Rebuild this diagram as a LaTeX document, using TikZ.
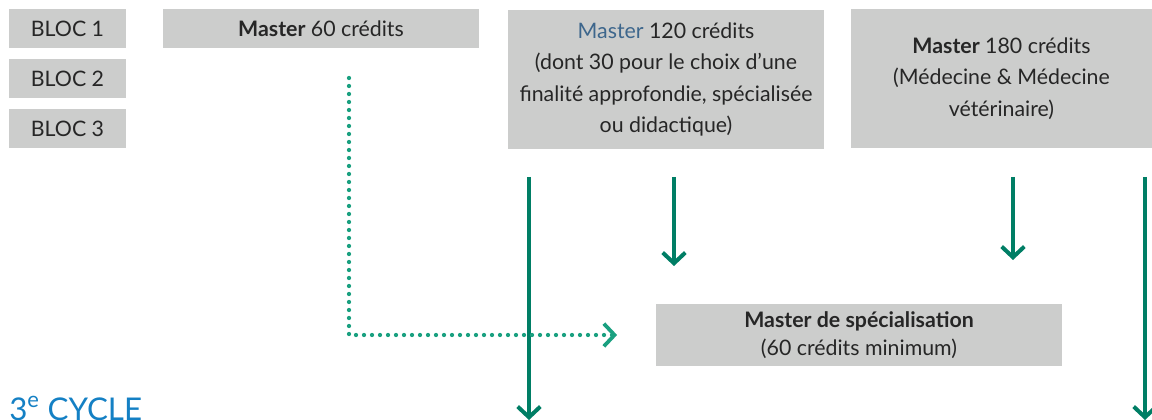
\documentclass[tikz,border=0pt]{standalone}
\usepackage{fontspec}
\setmainfont{Lato}
\usetikzlibrary{arrows.meta}

\definecolor{boxgray}{RGB}{204,205,204}
\definecolor{flowgreen}{RGB}{0,126,101}
\definecolor{dotgreen}{RGB}{26,160,128}
\definecolor{masterblue}{RGB}{61,102,140}
\definecolor{cycleblue}{RGB}{20,128,196}

\tikzset{
  block/.style={fill=boxgray, inner sep=0pt, align=center, text=black!85,
    font=\fontsize{16}{23.5}\selectfont},
  flow/.style={draw=flowgreen, line width=3pt,
    -{Straight Barb[length=8pt,width=17pt,line width=3pt]}},
  link/.style={draw=dotgreen, line width=3.2pt, line cap=round,
    dash pattern=on 0pt off 6pt,
    -{Straight Barb[length=8pt,width=17pt,line width=2.8pt]}}
}

\begin{document}
\begin{tikzpicture}[x=0.75pt,y=0.75pt,yscale=-1,xscale=1]
        \useasboundingbox (0,0) rectangle (1152,420);

        %Shape: Rectangle [blocs]
        \node[block, minimum width=87.75pt, minimum height=29.25pt] (bloc1) at (67.5,28.5) {BLOC 1};
        \node[block, minimum width=87.75pt, minimum height=29.25pt] (bloc2) at (67.5,78.5) {BLOC 2};
        \node[block, minimum width=87.75pt, minimum height=29.25pt] (bloc3) at (67.5,128.5) {BLOC 3};

        %Shape: Rectangle [masters]
        \node[block, minimum width=237pt, minimum height=29.25pt] (m60) at (321,28.5) {\textbf{Master} 60 crédits};
        \node[block, minimum width=237pt, minimum height=104.25pt] (m120) at (666,79.5)
          {{\color{masterblue}Master} 120 crédits\\(dont 30 pour le choix d’une\\finalité approfondie, spécialisée\\ou didactique)};
        \node[block, minimum width=225.75pt, minimum height=104.25pt] (m180) at (1001.5,78.5)
          {\textbf{Master} 180 crédits\\(Médecine \& Médecine\\vétérinaire)};
        \node[block, minimum width=304.5pt, minimum height=46.5pt, font=\fontsize{16}{21}\selectfont] (mspec) at (859,335)
          {\textbf{Master de spécialisation}\\(60 crédits minimum)};

        % Text Node
        \node[anchor=base west, inner sep=0pt, text=cycleblue, font=\fontsize{23.5}{28}\selectfont] (cycle) at (9,420) {3\textsuperscript{e} CYCLE};

        %Straight Lines [arrows]
        \coordinate (s1) at (529,177);
        \coordinate (e1) at (529,420);
        \coordinate (s2) at (674,177);
        \coordinate (e2) at (674,266);
        \coordinate (s3) at (1013,177);
        \coordinate (e3) at (1013,260);
        \coordinate (s4) at (1145,177);
        \coordinate (e4) at (1145,420);
        \draw[flow] (s1) -- (e1);
        \draw[flow] (s2) -- (e2);
        \draw[flow] (s3) -- (e3);
        \draw[flow] (s4) -- (e4);

        %Dotted Lines
        \coordinate (d1) at (349,78);
        \draw[link] (d1) |- ([xshift=-29pt]mspec.west);
    \end{tikzpicture}
\end{document}
